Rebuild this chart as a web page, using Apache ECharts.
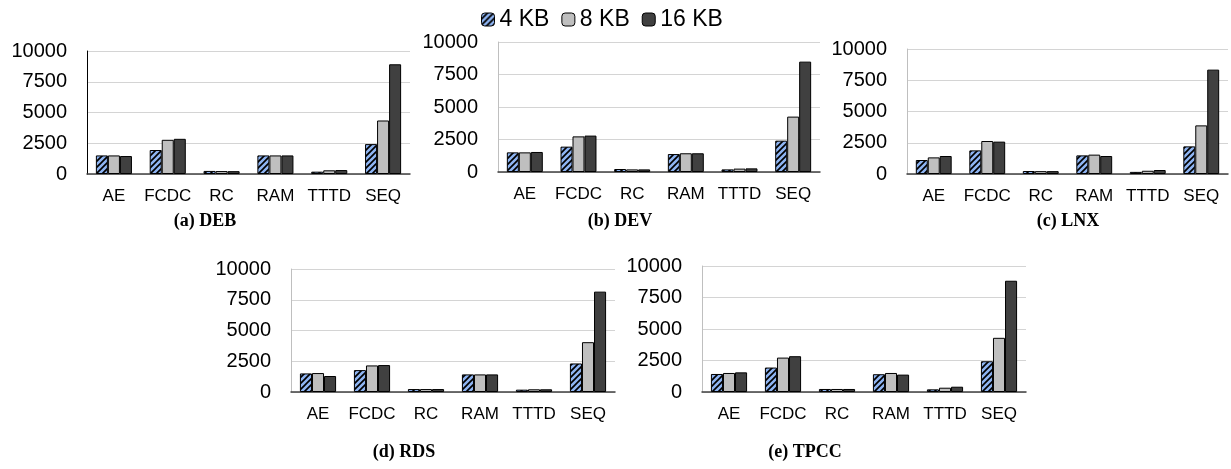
<!DOCTYPE html>
<html><head><meta charset="utf-8">
<script src="https://cdn.jsdelivr.net/npm/echarts@6/dist/echarts.min.js"></script>
<style>html,body{margin:0;padding:0;background:#fff}#c{width:1231px;height:469px}</style>
</head><body><div id="c"></div>
<script>
const categories = ['AE','FCDC','RC','RAM','TTTD','SEQ'];
const seriesNames = ['4 KB','8 KB','16 KB'];
const yTicks = [0, 2500, 5000, 7500, 10000];
const panelCaptions = ['(a) DEB','(b) DEV','(c) LNX','(d) RDS','(e) TPCC'];

const debKB4  = [1510, 1950, 250, 1510, 190, 2430];
const debKB8  = [1510, 2780, 240, 1510, 300, 4350];
const debKB16 = [1460, 2860, 230, 1510, 320, 8920];

const devKB4  = [1510, 1950, 230, 1380, 200, 2410];
const devKB8  = [1510, 2740, 200, 1440, 260, 4260];
const devKB16 = [1540, 2800, 200, 1440, 280, 8490];

const lnxKB4  = [1120, 1890, 240, 1490, 170, 2210];
const lnxKB8  = [1330, 2640, 230, 1550, 260, 3890];
const lnxKB16 = [1440, 2590, 230, 1440, 320, 8350];

const rdsKB4  = [1510, 1780, 240, 1430, 190, 2320];
const rdsKB8  = [1540, 2160, 240, 1430, 220, 4050];
const rdsKB16 = [1300, 2190, 240, 1430, 220, 8160];

const tpccKB4  = [1430, 1940, 240, 1410, 210, 2440];
const tpccKB8  = [1510, 2730, 240, 1510, 340, 4300];
const tpccKB16 = [1560, 2840, 240, 1380, 420, 8830];

const panels = [
  [debKB4, debKB8, debKB16],
  [devKB4, devKB8, devKB16],
  [lnxKB4, lnxKB8, lnxKB16],
  [rdsKB4, rdsKB8, rdsKB16],
  [tpccKB4, tpccKB8, tpccKB16]
];

// layout (px)
const grids = [
  {left: 87,  top: 51,  width: 323, height: 123},
  {left: 498, top: 42,  width: 322, height: 130},
  {left: 907, top: 49,  width: 321, height: 125},
  {left: 291, top: 269, width: 324, height: 123},
  {left: 702, top: 266, width: 324, height: 126}
];
const captionPos = [[205, 221], [620, 221], [1068, 221], [404, 452], [805, 452]];
const yAxisLineColors = ['#000', '#bfbfbf', '#bfbfbf', '#bfbfbf', '#bfbfbf'];

// hatch pattern
function hatch() {
  const s = 6, cv = document.createElement('canvas');
  cv.width = s; cv.height = s;
  const g = cv.getContext('2d');
  g.fillStyle = '#8eb4f2'; g.fillRect(0, 0, s, s);
  g.strokeStyle = '#000'; g.lineWidth = 1.7;
  g.beginPath();
  g.moveTo(-1, s + 1); g.lineTo(s + 1, -1);
  g.moveTo(-1, 1); g.lineTo(1, -1);
  g.moveTo(s - 1, s + 1); g.lineTo(s + 1, s - 1);
  g.stroke();
  return {image: cv, repeat: 'repeat'};
}
const colors = [hatch(), '#bfbfbf', '#404040'];

const chart = echarts.init(document.getElementById('c'), null, {renderer: 'canvas'});

const xAxis = [], yAxis = [], series = [];
grids.forEach((g, i) => {
  xAxis.push({
    type: 'category', gridIndex: i, data: categories,
    axisTick: {show: false},
    axisLine: {lineStyle: {color: '#404040', width: 1.5}},
    axisLabel: {fontFamily: 'Liberation Sans', fontSize: 17, color: '#000', margin: 14, interval: 0}
  });
  yAxis.push({
    type: 'value', gridIndex: i, min: yTicks[0], max: yTicks[yTicks.length - 1], interval: yTicks[1] - yTicks[0],
    axisLine: {show: true, lineStyle: {color: yAxisLineColors[i], width: 1}},
    axisTick: {show: false},
    splitLine: {lineStyle: {color: '#d4d4d4', width: 1}},
    axisLabel: {fontFamily: 'Liberation Sans', fontSize: 20, color: '#000', margin: 20, formatter: v => String(v)}
  });
  panels[i].forEach((vals, k) => {
    series.push({
      type: 'bar', name: seriesNames[k], xAxisIndex: i, yAxisIndex: i,
      data: vals, barGap: '0%', barCategoryGap: '33%',
      itemStyle: {color: colors[k], borderColor: '#000', borderWidth: 1},
      emphasis: {disabled: true}, animation: false
    });
  });
});

chart.setOption({
  animation: false,
  legend: {
    top: 3, left: 476, itemWidth: 13, itemHeight: 13, itemGap: 12,
    data: seriesNames.map((n, k) => ({name: n, itemStyle: {color: colors[k], borderColor: '#000', borderWidth: 1}})),
    textStyle: {fontFamily: 'Liberation Sans', fontSize: 23, color: '#000', padding: [0, 0, 0, 0]}
  },
  grid: grids.map(g => Object.assign({containLabel: false}, g)),
  xAxis, yAxis, series,
  graphic: panelCaptions.map((t, i) => ({
    type: 'text', x: captionPos[i][0], y: captionPos[i][1],
    style: {text: t, fontFamily: 'Liberation Serif', fontWeight: 'bold', fontSize: 18, fill: '#000', align: 'center', verticalAlign: 'middle'}
  }))
});
</script></body></html>
